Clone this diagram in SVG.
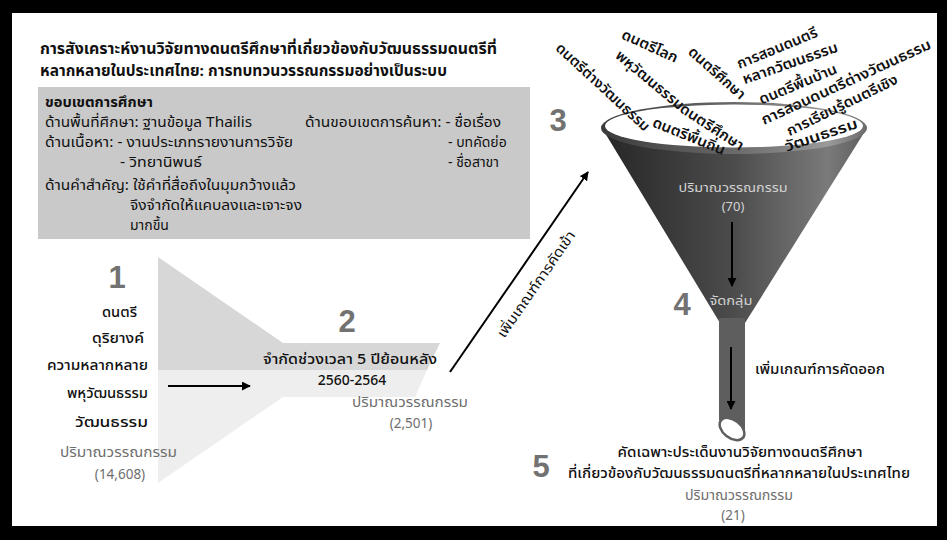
<svg xmlns="http://www.w3.org/2000/svg" width="947" height="540" viewBox="0 0 947 540">
<style>
text{font-family:"Noto Sans Thai","Noto Sans","DejaVu Sans",sans-serif;fill:#111}
.t{font-size:15px;font-weight:700}
.b{font-size:14px}
.bb{font-size:14px;font-weight:700}
.k{font-size:14px;font-weight:500}
.g{font-size:13.5px;fill:#6e6e6e}
.lg{font-size:13px;fill:#d2d2d2}
.n{font-family:"Liberation Sans","DejaVu Sans",sans-serif;font-weight:700;font-size:31px;fill:#727272}
.w{font-size:14.5px;font-weight:600}
.m{font-size:14px;font-weight:500}
.ln{stroke:#000;stroke-width:2;fill:none}
</style>
<defs>
<marker id="ah" viewBox="0 0 10 10" refX="9" refY="5" markerWidth="4.5" markerHeight="4.5" orient="auto" markerUnits="strokeWidth">
<path d="M0,0 L10,5 L0,10 Z" fill="#000"/>
</marker>
<linearGradient id="cone" gradientUnits="userSpaceOnUse" x1="602" y1="0" x2="867" y2="0">
<stop offset="0" stop-color="#262626"/>
<stop offset="0.5" stop-color="#4c4c4c"/>
<stop offset="0.85" stop-color="#7a7a7a"/>
<stop offset="1" stop-color="#5e5e5e"/>
</linearGradient>
<linearGradient id="ring" gradientUnits="userSpaceOnUse" x1="601" y1="0" x2="868" y2="0">
<stop offset="0" stop-color="#3a3a3a"/>
<stop offset="0.5" stop-color="#6a6a6a"/>
<stop offset="0.85" stop-color="#9a9a9a"/>
<stop offset="1" stop-color="#6a6a6a"/>
</linearGradient>
</defs>
<rect x="0" y="0" width="947" height="540" fill="#000"/>
<rect x="12" y="13" width="925" height="513" fill="#fff"/>

<g id="title">
<text class="t" x="40" y="54" textLength="457" lengthAdjust="spacingAndGlyphs">การสังเคราะห์งานวิจัยทางดนตรีศึกษาที่เกี่ยวข้องกับวัฒนธรรมดนตรีที่</text>
<text class="t" x="40" y="76" textLength="407" lengthAdjust="spacingAndGlyphs">หลากหลายในประเทศไทย: การทบทวนวรรณกรรมอย่างเป็นระบบ</text>
</g>

<g id="scope">
<rect x="38" y="87" width="492" height="152" fill="#c9c9c9"/>
<text class="bb" x="45" y="107" textLength="108" lengthAdjust="spacingAndGlyphs">ขอบเขตการศึกษา</text>
<text class="b" x="45" y="127" textLength="207" lengthAdjust="spacingAndGlyphs">ด้านพื้นที่ศึกษา: ฐานข้อมูล Thailis</text>
<text class="b" x="45" y="147" textLength="248" lengthAdjust="spacingAndGlyphs">ด้านเนื้อหา: - งานประเภทรายงานการวิจัย</text>
<text class="b" x="120" y="167" textLength="82" lengthAdjust="spacingAndGlyphs">- วิทยานิพนธ์</text>
<text class="b" x="45" y="190" textLength="251" lengthAdjust="spacingAndGlyphs">ด้านคำสำคัญ: ใช้คำที่สื่อถึงในมุมกว้างแล้ว</text>
<text class="b" x="130" y="210" textLength="172" lengthAdjust="spacingAndGlyphs">จึงจำกัดให้แคบลงและเจาะจง</text>
<text class="b" x="130" y="230">มากขึ้น</text>
<text class="b" x="305" y="127" textLength="196" lengthAdjust="spacingAndGlyphs">ด้านขอบเขตการค้นหา: - ชื่อเรื่อง</text>
<text class="b" x="448" y="147">- บทคัดย่อ</text>
<text class="b" x="448" y="167">- ชื่อสาขา</text>
</g>

<g id="step1">
<polygon points="158,257 283,343 440,343 427,370 158,370" fill="#d7d7d7"/>
<polygon points="158,370 427,370 415,397 283,397 158,483" fill="#eeeeee"/>
<text class="n" x="117" y="288" text-anchor="middle">1</text>
<text class="k" x="102" y="317" textLength="35" lengthAdjust="spacingAndGlyphs">ดนตรี</text>
<text class="k" x="92" y="343" textLength="52" lengthAdjust="spacingAndGlyphs">ดุริยางค์</text>
<text class="k" x="47" y="370" textLength="101" lengthAdjust="spacingAndGlyphs">ความหลากหลาย</text>
<text class="k" x="67" y="398" textLength="81" lengthAdjust="spacingAndGlyphs">พหุวัฒนธรรม</text>
<text class="k" x="75" y="427" textLength="73" lengthAdjust="spacingAndGlyphs">วัฒนธรรม</text>
<text class="g" x="60" y="457" textLength="117" lengthAdjust="spacingAndGlyphs">ปริมาณวรรณกรรม</text>
<text class="g" x="120" y="479" text-anchor="middle">(14,608)</text>
</g>

<g id="step2">
<text class="n" x="347" y="332" text-anchor="middle">2</text>
<text class="k" x="263" y="364" textLength="174" lengthAdjust="spacingAndGlyphs">จำกัดช่วงเวลา 5 ปีย้อนหลัง</text>
<text class="k" x="352" y="385" text-anchor="middle">2560-2564</text>
<text class="g" x="352" y="407" textLength="116" lengthAdjust="spacingAndGlyphs">ปริมาณวรรณกรรม</text>
<text class="g" x="411" y="428" text-anchor="middle">(2,501)</text>
</g>

<g id="step3">
<polygon points="602,128 867,128 745,323 720,323" fill="url(#cone)"/>
<ellipse cx="734" cy="128" rx="133" ry="26" fill="url(#ring)"/>
<ellipse cx="734" cy="126" rx="129" ry="21.5" fill="#fff"/>
<text class="n" x="558" y="131" text-anchor="middle">3</text>
<g class="w">
<text transform="translate(603,87) rotate(42.7)" text-anchor="middle" dy="5" textLength="122" lengthAdjust="spacingAndGlyphs">ดนตรีต่างวัฒนธรรม</text>
<text transform="translate(650,46) rotate(24.4)" text-anchor="middle" dy="5" textLength="60" lengthAdjust="spacingAndGlyphs">ดนตรีโลก</text>
<text transform="translate(650,80) rotate(39.7)" text-anchor="middle" dy="5" textLength="84" lengthAdjust="spacingAndGlyphs">พหุวัฒนธรรม</text>
<text transform="translate(712,127) rotate(33)" text-anchor="middle" dy="5" textLength="73" lengthAdjust="spacingAndGlyphs">ดนตรีศึกษา</text>
<text transform="translate(717,73) rotate(41.6)" text-anchor="middle" dy="5" textLength="71" lengthAdjust="spacingAndGlyphs">ดนตรีศึกษา</text>
<text transform="translate(689,136) rotate(22)" text-anchor="middle" dy="5" textLength="77" lengthAdjust="spacingAndGlyphs">ดนตรีพื้นถิ่น</text>
<text transform="translate(777,48) rotate(-22.4)" text-anchor="middle" dy="5" textLength="86" lengthAdjust="spacingAndGlyphs">การสอนดนตรี</text>
<text transform="translate(790,63) rotate(-19.3)" text-anchor="middle" dy="5" textLength="100" lengthAdjust="spacingAndGlyphs">หลากวัฒนธรรม</text>
<text transform="translate(798,84) rotate(-22.6)" text-anchor="middle" dy="5" textLength="83" lengthAdjust="spacingAndGlyphs">ดนตรีพื้นบ้าน</text>
<text transform="translate(846,82) rotate(-24.6)" text-anchor="middle" dy="5" textLength="185" lengthAdjust="spacingAndGlyphs">การสอนดนตรีต่างวัฒนธรรม</text>
<text transform="translate(842,105) rotate(-26)" text-anchor="middle" dy="5" textLength="122" lengthAdjust="spacingAndGlyphs">การเรียนรู้ดนตรีเชิง</text>
<text transform="translate(821,135) rotate(-18.4)" text-anchor="middle" dy="5" textLength="76" lengthAdjust="spacingAndGlyphs">วัฒนธรรม</text>
</g>
<text class="lg" x="733" y="192" text-anchor="middle" textLength="109" lengthAdjust="spacingAndGlyphs">ปริมาณวรรณกรรม</text>
<text class="lg" x="733" y="211" text-anchor="middle">(70)</text>
</g>

<g id="step4">
<polygon points="719,318 745,318 745,438 719,420" fill="#5e5e5e"/>
<ellipse cx="732" cy="429" rx="14" ry="9" transform="rotate(38 732 429)" fill="#fff" stroke="#5e5e5e" stroke-width="2.5"/>
<text class="n" x="682" y="315" text-anchor="middle">4</text>
<text class="lg" x="731" y="305" text-anchor="middle" textLength="43" lengthAdjust="spacingAndGlyphs">จัดกลุ่ม</text>
<text class="m" x="755" y="374" textLength="130" lengthAdjust="spacingAndGlyphs">เพิ่มเกณฑ์การคัดออก</text>
</g>

<g id="step5">
<text class="n" x="541" y="477" text-anchor="middle">5</text>
<text class="m" x="740" y="457" text-anchor="middle" textLength="245" lengthAdjust="spacingAndGlyphs">คัดเฉพาะประเด็นงานวิจัยทางดนตรีศึกษา</text>
<text class="m" x="739" y="478" text-anchor="middle" textLength="342" lengthAdjust="spacingAndGlyphs">ที่เกี่ยวข้องกับวัฒนธรรมดนตรีที่หลากหลายในประเทศไทย</text>
<text class="g" x="739" y="500" text-anchor="middle" font-size="13" textLength="108" lengthAdjust="spacingAndGlyphs">ปริมาณวรรณกรรม</text>
<text class="g" x="733" y="520" text-anchor="middle" font-size="13">(21)</text>
</g>

<g id="connectors">
<line class="ln" x1="168" y1="386" x2="250" y2="386" marker-end="url(#ah)"/>
<line class="ln" x1="450" y1="372" x2="588" y2="172" marker-end="url(#ah)"/>
<text class="b" transform="translate(536,284) rotate(-55.4)" text-anchor="middle" dy="5" textLength="126" lengthAdjust="spacingAndGlyphs">เพิ่มเกณฑ์การคัดเข้า</text>
<line class="ln" x1="732" y1="222" x2="732" y2="286" marker-end="url(#ah)"/>
<line class="ln" x1="731" y1="347" x2="731" y2="409" marker-end="url(#ah)"/>
</g>
</svg>
